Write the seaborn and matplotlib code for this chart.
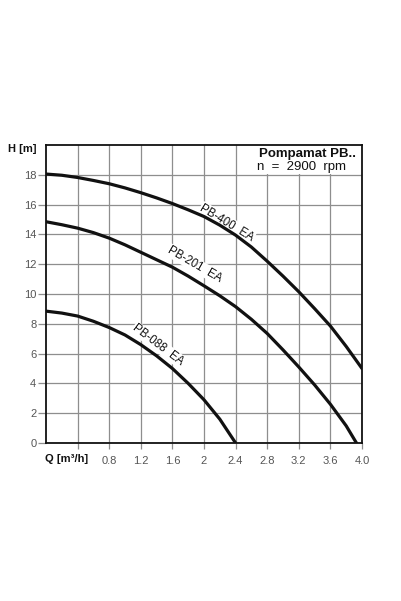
import pandas as pd
import seaborn as sns
import matplotlib.pyplot as plt
from matplotlib.patches import Rectangle

# pump curves: Q [m3/h] vs H [m]
q_400 = [0, 0.2, 0.4, 0.6, 0.8, 1.0, 1.2, 1.4, 1.6, 1.8, 2.0,
         2.2, 2.4, 2.6, 2.8, 3.0, 3.2, 3.4, 3.6, 3.8, 4.0]
h_400 = [18.05, 17.97, 17.82, 17.62, 17.4, 17.12, 16.8, 16.45, 16.07, 15.65, 15.2,
         14.62, 13.95, 13.15, 12.2, 11.2, 10.15, 9.02, 7.85, 6.48, 5.0]

q_201 = [0, 0.2, 0.4, 0.6, 0.8, 1.0, 1.2, 1.4, 1.6, 1.8, 2.0,
         2.2, 2.4, 2.6, 2.8, 3.0, 3.2, 3.4, 3.6, 3.8, 3.93]
h_201 = [14.85, 14.65, 14.42, 14.12, 13.75, 13.3, 12.8, 12.3, 11.8, 11.2, 10.55,
         9.88, 9.15, 8.3, 7.35, 6.25, 5.1, 3.9, 2.6, 1.15, 0.0]

q_088 = [0, 0.2, 0.4, 0.6, 0.8, 1.0, 1.2, 1.4, 1.6, 1.8, 2.0, 2.2, 2.4]
h_088 = [8.85, 8.72, 8.52, 8.17, 7.75, 7.25, 6.6, 5.85, 5.0, 4.0, 2.9, 1.6, 0.0]

pump_names = ["PB-400  EA", "PB-201  EA", "PB-088  EA"]

x_ticks = [0.4, 0.8, 1.2, 1.6, 2.0, 2.4, 2.8, 3.2, 3.6, 4.0]
x_labels = ["", "0.8", "1.2", "1.6", "2", "2.4", "2.8", "3.2", "3.6", "4.0"]
y_ticks = [0, 2, 4, 6, 8, 10, 12, 14, 16, 18]

# long form table for seaborn
curves = pd.concat([
    pd.DataFrame({"Q": q_400, "H": h_400, "pump": pump_names[0]}),
    pd.DataFrame({"Q": q_201, "H": h_201, "pump": pump_names[1]}),
    pd.DataFrame({"Q": q_088, "H": h_088, "pump": pump_names[2]}),
])

sns.set_theme(style="whitegrid")
plt.rcParams["font.family"] = ["Liberation Sans", "DejaVu Sans"]

fig = plt.figure(figsize=(4.01, 6.01), dpi=100)
ax = fig.add_axes([46 / 401, 158 / 601, 316 / 401, 298 / 601])

sns.lineplot(data=curves, x="Q", y="H", hue="pump", palette=["#111111"] * 3,
             estimator=None, sort=False, legend=False, linewidth=2.3,
             solid_joinstyle="round", ax=ax)

ax.set_xlim(0, 4.0)
ax.set_ylim(0, 20)
ax.set_xticks(x_ticks)
ax.set_xticklabels(x_labels)
ax.set_yticks(y_ticks)
ax.set_xlabel("")
ax.set_ylabel("")

# grid and frame
ax.grid(True, color="#8e8e8e", linewidth=0.9)
for s in ax.spines.values():
    s.set_color("#111111")
    s.set_linewidth(1.3)
ax.tick_params(axis="y", length=6, width=0.9, color="#8e8e8e", pad=1,
               labelsize=8, labelcolor="#555555", left=True)
ax.tick_params(axis="x", length=4, width=0.9, color="#8e8e8e", pad=5,
               labelsize=8, labelcolor="#555555", bottom=True)

# curve labels (text runs down along the curves)
label_pos = [(2.29, 14.78, -31), (1.88, 11.98, -30), (1.42, 6.58, -37)]
for name, (qx, hy, rot) in zip(pump_names, label_pos):
    ax.text(qx, hy, name, rotation=rot, rotation_mode="anchor", ha="center", va="center",
            fontsize=8.3, color="#111111", zorder=1.8,
            bbox=dict(facecolor="white", edgecolor="none", pad=0.6))

# title box in the upper right corner
ax.add_patch(Rectangle((2.5, 18.06), 1.5, 1.94, facecolor="white", edgecolor="none", zorder=1))
ax.text(3.31, 19.4, "Pompamat PB..", ha="center", va="center", fontsize=9.5,
        fontweight="bold", color="#111111", zorder=3)
ax.text(3.24, 18.55, "n  =  2900  rpm", ha="center", va="center", fontsize=9.5,
        color="#111111", zorder=3)

# axis titles
fig.text(37 / 401, 1 - 149 / 601, "H [m]", ha="right", va="center", fontsize=8,
         fontweight="bold", color="#111111")
fig.text(45 / 401, 1 - 459 / 601, "Q [m³/h]", ha="left", va="center", fontsize=8,
         fontweight="bold", color="#111111")

fig.savefig("out.png", dpi=100)
